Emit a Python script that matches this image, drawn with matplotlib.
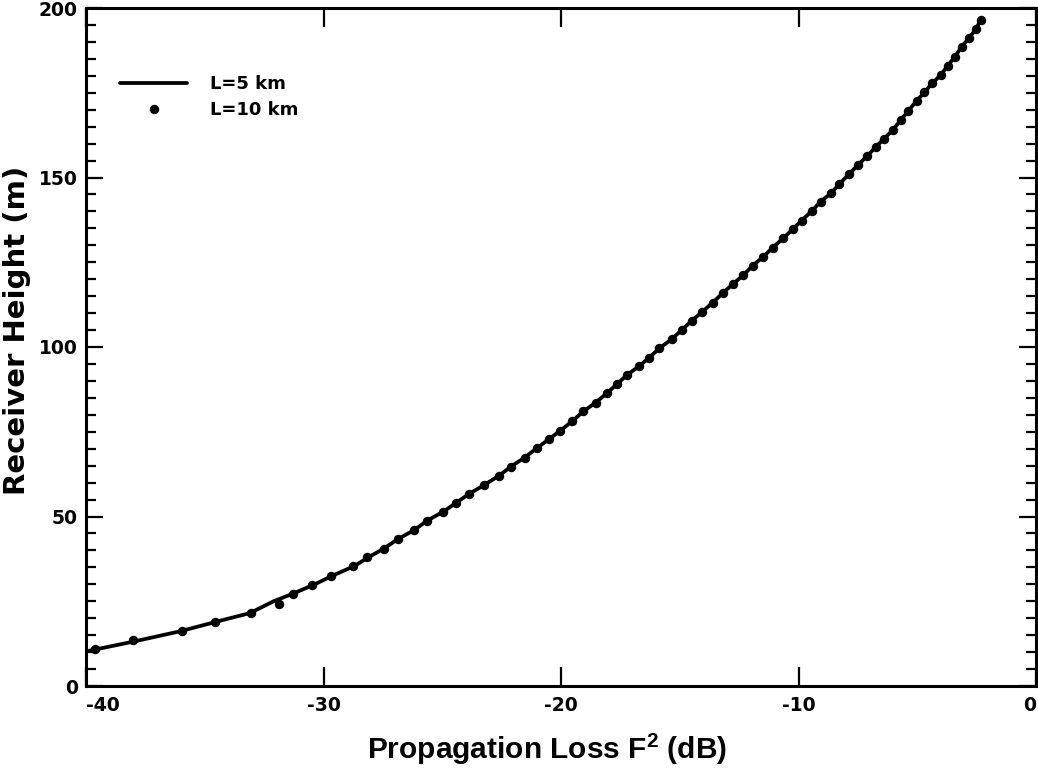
import matplotlib
matplotlib.use("Agg")
import matplotlib.pyplot as plt
from matplotlib.ticker import MultipleLocator

plt.rcParams['font.family'] = ['DejaVu Sans']
plt.rcParams['font.weight'] = 'bold'
plt.rcParams['axes.unicode_minus'] = False
plt.rcParams['mathtext.fontset'] = 'custom'
plt.rcParams['mathtext.rm'] = 'Liberation Sans'
plt.rcParams['mathtext.bf'] = 'Liberation Sans:bold'

# L=10 km (dots)
loss_10km = [-39.62, -38.03, -35.97, -34.57, -33.07, -31.86, -31.27, -30.50, -29.68, -28.77,
             -28.16, -27.45, -26.85, -26.18, -25.63, -24.96, -24.42, -23.89, -23.23, -22.62,
             -22.11, -21.53, -21.01, -20.51, -20.03, -19.53, -19.06, -18.54, -18.08, -17.65,
             -17.23, -16.70, -16.28, -15.86, -15.34, -14.92, -14.50, -14.05, -13.61, -13.19,
             -12.77, -12.32, -11.93, -11.48, -11.09, -10.64, -10.25, -9.87, -9.44, -9.07,
             -8.64, -8.28, -7.87, -7.51, -7.13, -6.75, -6.40, -6.03, -5.70, -5.37,
             -5.03, -4.70, -4.37, -4.00, -3.72, -3.41, -3.13, -2.81, -2.53, -2.32]
height_10km = [10.8, 13.6, 16.2, 19.0, 21.6, 24.2, 27.0, 29.8, 32.4, 35.4,
               38.0, 40.5, 43.4, 46.0, 48.8, 51.4, 54.0, 56.6, 59.3, 62.0,
               64.7, 67.4, 70.2, 72.8, 75.3, 78.1, 81.0, 83.6, 86.3, 89.0,
               91.7, 94.4, 96.9, 99.6, 102.3, 105.0, 107.7, 110.4, 113.1, 115.9,
               118.5, 121.2, 124.0, 126.6, 129.3, 132.1, 134.7, 137.3, 140.1, 142.9,
               145.3, 148.1, 151.0, 153.6, 156.2, 159.0, 161.4, 164.0, 166.9, 169.7,
               172.6, 175.1, 177.8, 180.3, 183.0, 185.6, 188.6, 191.2, 193.8, 196.5]

# L=5 km (line)
loss_5km = [-40.0, -38.0, -36.0, -34.6, -33.1, -32.1, -31.3, -30.4, -29.6, -28.7,
            -28.1, -27.45, -26.85, -26.18, -25.63, -24.96, -24.42, -23.89, -23.23, -22.62,
            -22.11, -21.53, -21.01, -20.51, -20.03, -19.53, -19.06, -18.54, -18.08, -17.65,
            -17.23, -16.70, -16.28, -15.86, -15.34, -14.92, -14.50, -14.05, -13.61, -13.19,
            -12.77, -12.32, -11.93, -11.48, -11.09, -10.64, -10.25, -9.87, -9.44, -9.07,
            -8.64, -8.28, -7.87, -7.51, -7.13, -6.75, -6.40, -6.03, -5.70, -5.37,
            -5.03, -4.70, -4.37, -4.00, -3.72, -3.41, -3.13, -2.81, -2.53, -2.32]
height_5km = [10.2, 13.1, 16.2, 18.8, 21.5, 25.0, 27.2, 29.9, 32.6, 35.4,
              38.0, 40.6, 43.4, 46.0, 48.8, 51.4, 54.0, 56.6, 59.3, 62.0,
              64.7, 67.4, 70.2, 72.8, 75.3, 78.1, 81.0, 83.6, 86.3, 89.0,
              91.7, 94.4, 96.9, 99.6, 102.3, 105.0, 107.7, 110.4, 113.1, 115.9,
              118.5, 121.2, 124.0, 126.6, 129.3, 132.1, 134.7, 137.3, 140.1, 142.9,
              145.3, 148.1, 151.0, 153.6, 156.2, 159.0, 161.4, 164.0, 166.9, 169.7,
              172.6, 175.1, 177.8, 180.3, 183.0, 185.6, 188.6, 191.2, 193.8, 196.5]

x_ticks = [-40, -30, -20, -10, 0]
x_tick_labels = ['-40', '-30', '-20', '-10', '0']
y_ticks = [0, 50, 100, 150, 200]

fig = plt.figure(figsize=(10.38, 7.68), dpi=100)
ax = fig.add_axes([86 / 1038, 1 - 686 / 768, 950 / 1038, 678 / 768])

ax.plot(loss_5km, height_5km, color='black', lw=2.7, label='L=5 km', solid_capstyle='round')
ax.plot(loss_10km, height_10km, linestyle='none', marker='o', color='black',
        markersize=5.8, label='L=10 km')

ax.set_xlim(-40, 0)
ax.set_ylim(0, 200)
ax.set_xticks(x_ticks)
ax.set_xticklabels(x_tick_labels)
ax.set_yticks(y_ticks)
ax.yaxis.set_minor_locator(MultipleLocator(5))

for s in ax.spines.values():
    s.set_linewidth(2.2)

ax.tick_params(axis='x', which='major', direction='in', length=14, width=1.6,
               top=True, bottom=True, labelsize=13.5, pad=7)
ax.tick_params(axis='y', which='major', direction='in', length=12, width=1.6,
               left=True, right=True, labelsize=13.5, pad=6)
ax.tick_params(axis='y', which='minor', direction='in', length=7, width=1.6,
               left=True, right=True)

labels = ax.get_xticklabels()
labels[0].set_horizontalalignment('left')
labels[-1].set_horizontalalignment('right')

ax.set_xlabel('Propagation Loss F$^{\\mathbf{2}}$ (dB)', fontsize=21.5, fontweight='bold',
              family=['Liberation Sans', 'DejaVu Sans'])
ax.xaxis.set_label_coords(0.485, -0.066)
ax.set_ylabel('Receiver Height (m)', fontsize=21, fontweight='bold')
ax.yaxis.set_label_coords(-0.058, 0.524)

leg = ax.legend(loc='upper left', bbox_to_anchor=(0.0285, 0.912), frameon=False,
                fontsize=13, handlelength=3.7, handletextpad=1.25, labelspacing=0.45,
                borderaxespad=0)

fig.savefig('out.png', dpi=100)
